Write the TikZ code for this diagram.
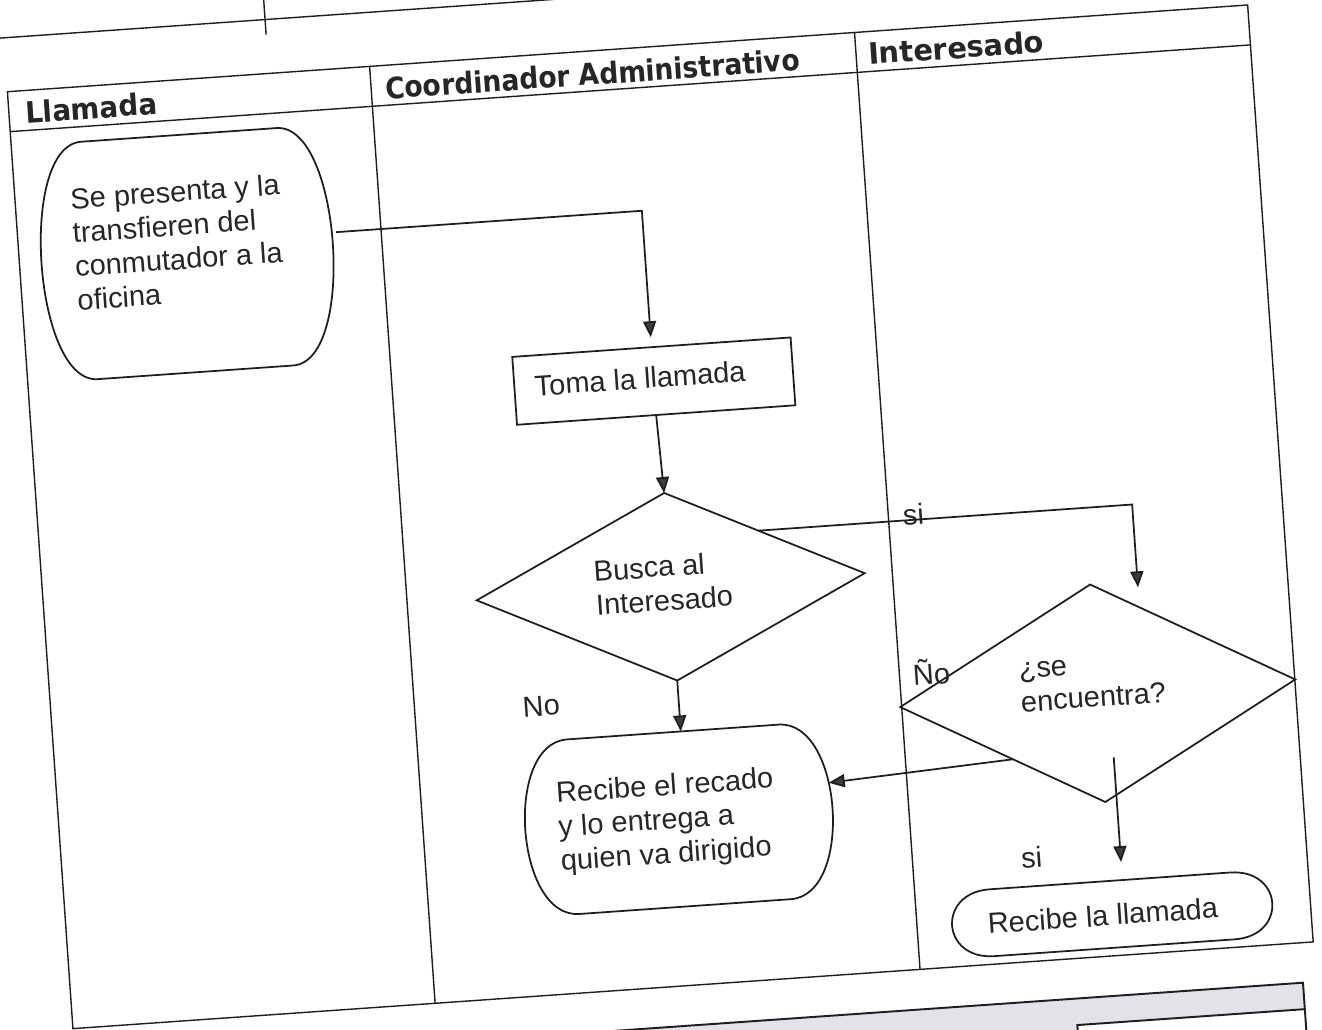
\documentclass[tikz,border=0pt]{standalone}
\usepackage{fontspec}
\setmainfont{Liberation Sans}
\newfontfamily\hdrfont{DejaVu Sans}
\usetikzlibrary{shapes.geometric,arrows.meta,calc}
\definecolor{ink}{RGB}{30,30,30}
\definecolor{tipgray}{RGB}{60,60,60}
\definecolor{txt}{RGB}{38,38,38}
\definecolor{boxgray}{RGB}{226,226,233}
\newcommand\termoutline[2]{%
  \draw[shapeline] ($(#1.north west)+(#2,0)$) -- ($(#1.north east)+(-#2,0)$)
    .. controls +(1.333*#2,0) and +(1.333*#2,0) .. ($(#1.south east)+(-#2,0)$)
    -- ($(#1.south west)+(#2,0)$)
    .. controls +(-1.333*#2,0) and +(-1.333*#2,0) .. ($(#1.north west)+(#2,0)$) -- cycle;}
\begin{document}
\begin{tikzpicture}
\useasboundingbox (0,0) rectangle (26.44,-20.58);
\fill[white] (0,0) rectangle (26.44,-20.58);
\clip (0,0) rectangle (26.44,-20.58);
\begin{scope}[x=0.02cm,y=-0.02cm,rotate=4,
  every node/.append style={transform shape},
  lane/.style={draw=ink,line width=0.8pt},
  shapeline/.style={draw=ink,line width=1pt},
  arrow/.style={draw=ink,line width=1pt,-{Triangle[length=0.32cm,width=0.26cm,fill=tipgray]}},
  body/.style={font=\fontsize{16.5}{19.3}\selectfont,text=txt,inner sep=0pt},
  hdr/.style={font=\hdrfont\bfseries\fontsize{16.8}{20}\selectfont,text=txt,inner sep=0pt,anchor=base west},
  box/.style={inner sep=0pt,outer sep=0pt}]

% remnants of adjacent tables
\draw[lane] (-50,38) -- (800,38);
\draw[lane] (263,-20) -- (263,53);
\fill[boxgray] (-100,1071) rectangle (1231,1250);
\fill[white] (1003,1097.5) rectangle (1231,1250);
\draw[lane,line width=1.1pt] (-100,1071) -- (1231,1071) -- (1231,1250);
\draw[lane,line width=1.1pt] (1003,1250) -- (1003,1097.5) -- (1231,1097.5);

% swimlanes
\draw[lane] (1,92) rectangle (1244,1031);
\draw[lane] (1,132) -- (1244,132);
\draw[lane] (364,92) -- (364,1031);
\draw[lane] (850,92) -- (850,1031);
\node[hdr] (hl) at (17,125) {\scalebox{0.94}[1]{Llamada}};
\node[hdr] (hc) at (378,126) {\scalebox{0.9}[1]{Coordinador Administrativo}};
\node[hdr] (hi) at (862,125) {\scalebox{0.98}[1]{Interesado}};

% shapes
\node[box,minimum width=5.84cm,minimum height=4.76cm] (llam) at (169,266) {};
\termoutline{llam}{48}
\node[body,align=left,anchor=west] (llamtxt) at (56,254) {Se presenta y la\\transfieren del\\conmutador a la\\oficina};

\node[box,shapeline,minimum width=5.58cm,minimum height=1.36cm] (toma) at (625.5,425.7) {};
\node[body] (tomatxt) at (612,422) {Toma la llamada};

\node[box,diamond,shapeline,minimum width=7.78cm,minimum height=3.76cm] (busca) at (628,632) {};
\node[body,align=left,anchor=west] (buscatxt) at (552,628) {Busca al\\Interesado};

\node[box,minimum width=6.16cm,minimum height=3.5cm] (recado) at (620,864.5) {};
\termoutline{recado}{48}
\node[body,align=left,anchor=west] (recadotxt) at (499,866) {Recibe el recado\\y lo entrega a\\quien va dirigido};

\node[box,diamond,shapeline,minimum width=7.92cm,minimum height=4.36cm] (enc) at (1046.5,768) {};
\node[body,align=left,anchor=west] (enctxt) at (969,757) {¿se\\encuentra?};

\node[box,minimum width=6.42cm,minimum height=1.34cm] (llam2) at (1045.5,989.5) {};
\termoutline{llam2}{40}
\node[body] (llam2txt) at (1036,990) {Recibe la llamada};

% labels
\node[body] (lno1) at (490.5,742) {No};
\node[body] (lsi1) at (875,577) {si};
\node[body] (lno2) at (882,735) {Ño};
\node[body] (lsi2) at (969,927) {si};

% connectors
\coordinate (s1) at ($(llam.east)+(4,-11)$);
\coordinate (s1r) at ($(s1)+(100,0)$);
\coordinate (c1) at ($(s1)!(toma.north)!(s1r)$);
\draw[arrow,shorten >=0.2cm] (s1) -- (c1) -- (toma.north);

\draw[arrow] (toma.south) -- (busca.north);

\coordinate (e3) at ($(recado.north west)!(busca.south)!(recado.north east)$);
\draw[arrow] (busca.south) -- (e3);

\coordinate (s2) at ($(busca.north)!0.47!(busca.east)$);
\coordinate (s2r) at ($(s2)+(100,0)$);
\coordinate (e2) at ($(enc.north)!0.24!(enc.east)$);
\coordinate (c2) at ($(s2)!(e2)!(s2r)$);
\draw[arrow,shorten >=0.4cm] (s2) -- (c2) -- (e2);

\coordinate (s5) at ($(enc.west)!0.55!(enc.south)$);
\coordinate (e5) at ($(recado.east)+(-2,-26)$);
\draw[arrow] (s5) -- (e5);

\coordinate (s6) at ($(enc.center)+(11.5,65)$);
\coordinate (e6) at ($(llam2.north west)!(s6)!(llam2.north east)$);
\draw[arrow,shorten >=0.36cm] (s6) -- (e6);
\end{scope}
\end{tikzpicture}
\end{document}
